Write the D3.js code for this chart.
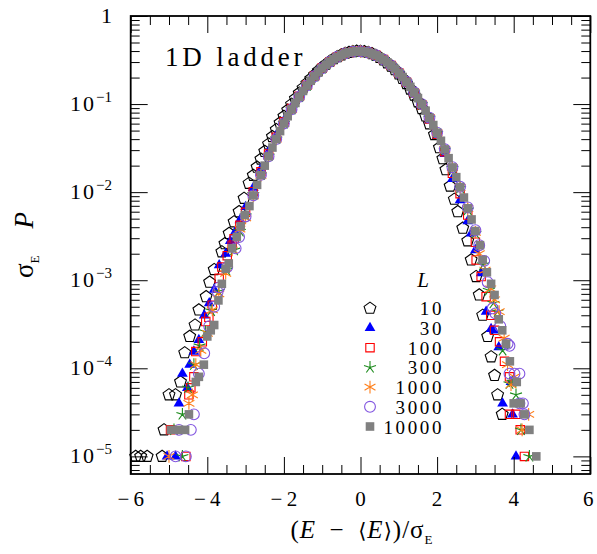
<!DOCTYPE html>
<html><head><meta charset="utf-8">
<script src="https://cdn.jsdelivr.net/npm/d3@7"></script>
<style>
body{margin:0;background:#fff}
text{font-family:"Liberation Serif","DejaVu Serif",serif;fill:#000}
</style>
</head><body>
<svg id="c" width="597" height="554"></svg>
<script>
// ---------------- data ----------------
const legendL = ["10","30","100","300","1000","3000","10000"];
const xTickLabels = [-6,-4,-2,0,2,4,6];
const yTickValues = [1e-5,1e-4,1e-3,1e-2,1e-1,1];
const yTickExp = ["\u22125","\u22124","\u22123","\u22122","\u22121",""];

// common x grid for the central part of the intermediate sizes
const coreX = [-3.0,-2.8,-2.6,-2.4,-2.2,-2.0,-1.8,-1.6,-1.4,-1.2,-1.0,-0.8,-0.6,-0.4,-0.2,0.0,0.2,0.4,0.6,0.8,1.0,1.2,1.4,1.6,1.8,2.0,2.2,2.4,2.6,2.8,3.0];

// L = 10 (x, sigma_E P)
const pL10 = [[-5.87,1e-5],[-5.74,1e-5],[-5.57,1e-5],[-5.18,1e-5],[-5.13,2e-5],[-5.00,5e-5],[-4.83,5e-5],[-4.70,7e-5],[-4.59,1.5e-4],[-4.46,2.3e-4],[-4.32,3.1e-4],[-4.22,4.6e-4],[-4.03,6.5e-4],[-3.94,9.5e-4],[-3.82,1.32e-3],[-3.62,2.1e-3],[-3.54,2.6e-3],[-3.43,3.4e-3],[-3.30,4.6e-3],[-3.17,6.0e-3],[-3.04,8.5e-3],[-2.91,1.26e-2],[-2.80,1.55e-2],[-2.70,1.92e-2],[-2.60,2.37e-2],[-2.50,2.90e-2],[-2.40,3.52e-2],[-2.30,4.27e-2],[-2.20,5.13e-2],[-2.10,6.11e-2],[-2.00,7.24e-2],[-1.90,8.51e-2],[-1.80,9.95e-2],[-1.70,0.115],[-1.60,0.133],[-1.50,0.152],[-1.40,0.172],[-1.30,0.193],[-1.20,0.215],[-1.10,0.238],[-1.00,0.261],[-0.90,0.283],[-0.80,0.305],[-0.70,0.327],[-0.60,0.345],[-0.50,0.362],[-0.40,0.376],[-0.30,0.386],[-0.20,0.394],[-0.10,0.398],[0.00,0.397],[0.10,0.393],[0.20,0.385],[0.30,0.373],[0.40,0.357],[0.50,0.339],[0.60,0.318],[0.70,0.294],[0.80,0.270],[0.90,0.245],[1.00,0.220],[1.10,0.195],[1.20,0.171],[1.30,0.148],[1.40,0.126],[1.50,0.106],[1.60,8.89e-2],[1.70,7.33e-2],[1.80,5.96e-2],[1.93,4.5e-2],[2.06,3.2e-2],[2.15,2.4e-2],[2.23,1.8e-2],[2.34,1.17e-2],[2.45,8.3e-3],[2.54,6.0e-3],[2.67,3.9e-3],[2.80,2.8e-3],[2.89,1.7e-3],[3.02,1.1e-3],[3.10,6.8e-4],[3.19,4.0e-4],[3.32,2.3e-4],[3.41,1.35e-4],[3.50,8.3e-5],[3.58,5e-5],[3.70,3e-5]];

// L = 30
const coreL30 = [6.8e-3,1.12e-2,1.85e-2,2.9e-2,4.42e-2,6.49e-2,9.18e-2,0.126,0.166,0.210,0.258,0.304,0.344,0.376,0.394,0.397,0.385,0.358,0.319,0.273,0.224,0.176,0.132,9.53e-2,6.58e-2,4.34e-2,2.72e-2,1.41e-2,8.1e-3,4.7e-3,2.2e-3];
const tailL30 = [[-5.05,1e-5],[-4.83,1e-5],[-4.74,4e-5],[-4.65,8.7e-5],[-4.52,6e-5],[-4.46,1.1e-4],[-4.35,1.55e-4],[-4.22,2.1e-4],[-4.08,4e-4],[-3.95,5.5e-4],[-3.82,7.8e-4],[-3.69,1.48e-3],[-3.52,2.0e-3],[-3.40,2.8e-3],[-3.28,3.5e-3],[-3.15,4.8e-3],[2.89,3.4e-3],[3.15,1.2e-3],[3.28,4.4e-4],[3.41,2.8e-4],[3.49,2.7e-4],[3.61,1.74e-4],[3.71,4e-5],[3.93,7e-5],[3.97,3e-5],[4.06,1e-5]];

// L = 100
const coreL100 = [5.9e-3,1.01e-2,1.70e-2,2.72e-2,4.2e-2,6.25e-2,8.93e-2,0.123,0.164,0.208,0.256,0.303,0.344,0.376,0.394,0.397,0.385,0.358,0.320,0.274,0.225,0.177,0.134,9.75e-2,6.79e-2,4.53e-2,2.88e-2,1.64e-2,9.6e-3,5.5e-3,2.7e-3];
const tailL100 = [[-4.96,2e-5],[-4.56,1e-5],[-4.48,5e-5],[-4.43,6e-5],[-4.35,8e-5],[-4.30,1.55e-4],[-4.13,2.0e-4],[-4.04,3.4e-4],[-3.96,3.8e-4],[-3.87,5.2e-4],[-3.69,1.05e-3],[-3.62,1.41e-3],[-3.48,1.9e-3],[-3.35,2.5e-3],[-3.30,2.95e-3],[-3.15,4.2e-3],[3.02,1.7e-3],[3.15,1.1e-3],[3.28,6.5e-4],[3.40,4.0e-4],[3.50,2.7e-4],[3.63,2.0e-4],[3.76,1.2e-4],[3.89,8e-5],[3.89,3e-5],[4.06,3e-5],[4.17,2e-5],[4.28,1e-5]];

// L = 300
const coreL300 = [5.4e-3,9.4e-3,1.58e-2,2.58e-2,4.03e-2,6.05e-2,8.74e-2,0.121,0.162,0.207,0.255,0.303,0.343,0.375,0.393,0.396,0.385,0.358,0.320,0.275,0.226,0.178,0.135,9.9e-2,6.95e-2,4.68e-2,3.02e-2,1.87e-2,1.11e-2,6.3e-3,3.4e-3];
const tailL300 = [[-4.65,1e-5],[-4.87,2e-5],[-4.65,3e-5],[-4.50,6e-5],[-4.35,1.1e-4],[-4.20,1.8e-4],[-4.05,2.6e-4],[-3.90,4.5e-4],[-3.70,7.5e-4],[-3.50,1.3e-3],[-3.30,2.2e-3],[-3.15,3.6e-3],[3.20,1.5e-3],[3.35,7.7e-4],[3.47,5.5e-4],[3.58,4.4e-4],[3.71,1.6e-4],[3.89,6.7e-5],[3.97,7e-5],[4.06,5e-5],[4.19,2e-5],[4.41,1e-5]];

// L = 1000
const coreL1000 = [5.1e-3,9.1e-3,1.55e-2,2.56e-2,4.0e-2,6.02e-2,8.7e-2,0.121,0.162,0.207,0.256,0.303,0.344,0.376,0.394,0.397,0.385,0.358,0.321,0.275,0.226,0.179,0.136,0.100,7.0e-2,4.72e-2,3.06e-2,1.9e-2,1.13e-2,6.5e-3,3.5e-3];
const tailL1000 = [[-5.00,1e-5],[-4.48,4e-5],[-4.39,5e-5],[-4.30,1.1e-4],[-4.17,1.6e-4],[-4.00,2.5e-4],[-3.87,4.6e-4],[-3.70,7e-4],[-3.52,1.2e-3],[-3.35,2.2e-3],[-3.15,3.8e-3],[3.10,2.0e-3],[3.25,1.3e-3],[3.40,8e-4],[3.50,6e-4],[3.62,4.4e-4],[3.75,2.2e-4],[3.84,1.1e-4],[3.93,6.5e-5],[4.02,8e-5],[4.22,2e-5],[4.39,3e-5]];

// L = 3000
const coreL3000 = [5.3e-3,9.2e-3,1.57e-2,2.55e-2,4.01e-2,6.03e-2,8.71e-2,0.121,0.162,0.207,0.255,0.303,0.344,0.376,0.394,0.397,0.385,0.358,0.320,0.275,0.226,0.179,0.136,9.98e-2,7.01e-2,4.74e-2,3.07e-2,1.92e-2,1.15e-2,6.7e-3,3.7e-3];
const tailL3000 = [[-4.83,1e-5],[-4.56,1e-5],[-4.74,2e-5],[-4.43,2e-5],[-4.35,3e-5],[-4.22,8.7e-5],[-4.08,1.48e-4],[-3.95,3.0e-4],[-3.82,5.0e-4],[-3.73,7.4e-4],[-3.69,8.3e-4],[-3.48,1.41e-3],[-3.26,2.3e-3],[-3.17,3.1e-3],[3.10,2.5e-3],[3.23,1.66e-3],[3.32,9.5e-4],[3.45,4.8e-4],[3.52,4.2e-4],[3.65,3.0e-4],[3.84,1.9e-4],[3.89,1.8e-4],[3.89,8.7e-5],[4.02,8.7e-5],[4.15,8.7e-5],[4.15,4e-5],[4.24,4e-5],[4.28,3e-5]];

// L = 10000
const pL10000 = [[-4.95,2e-5],[-4.74,2e-5],[-4.58,2e-5],[-4.48,3e-5],[-4.30,7e-5],[-4.22,8e-5],[-4.09,1.1e-4],[-4.00,2.3e-4],[-3.91,2.7e-4],[-3.82,3.1e-4],[-3.71,5.9e-4],[-3.62,9.1e-4],[-3.52,1.35e-3],[-3.44,1.55e-3],[-3.35,2.3e-3],[-3.23,3.1e-3],[-3.13,4.1e-3],[-3.02,5.5e-3],[-2.9,6.95e-3],[-2.8,9.18e-3],[-2.7,1.21e-2],[-2.6,1.56e-2],[-2.5,2.00e-2],[-2.4,2.55e-2],[-2.3,3.21e-2],[-2.2,4.00e-2],[-2.1,4.93e-2],[-2.0,6.03e-2],[-1.9,7.28e-2],[-1.8,8.71e-2],[-1.7,0.103],[-1.6,0.121],[-1.5,0.141],[-1.4,0.162],[-1.3,0.184],[-1.2,0.207],[-1.1,0.231],[-1.0,0.255],[-0.9,0.279],[-0.8,0.303],[-0.7,0.324],[-0.6,0.344],[-0.5,0.361],[-0.4,0.376],[-0.3,0.387],[-0.2,0.394],[-0.1,0.398],[0.0,0.397],[0.1,0.393],[0.2,0.385],[0.3,0.373],[0.4,0.358],[0.5,0.340],[0.6,0.320],[0.7,0.298],[0.8,0.275],[0.9,0.251],[1.0,0.226],[1.1,0.203],[1.2,0.179],[1.3,0.157],[1.4,0.136],[1.5,0.117],[1.6,9.98e-2],[1.7,8.41e-2],[1.8,7.01e-2],[1.9,5.78e-2],[2.0,4.73e-2],[2.1,3.83e-2],[2.2,3.06e-2],[2.3,2.43e-2],[2.4,1.91e-2],[2.5,1.48e-2],[2.6,1.14e-2],[2.7,8.69e-3],[2.8,6.56e-3],[2.9,4.90e-3],[3.0,3.62e-3],[3.12,2.5e-3],[3.19,1.7e-3],[3.30,1.23e-3],[3.41,9.1e-4],[3.50,6.8e-4],[3.61,3.6e-4],[3.70,2.7e-4],[3.80,1.9e-4],[3.90,1.2e-4],[4.08,7e-5],[4.00,4e-5],[4.18,4e-5],[4.28,3e-5],[4.41,2e-5],[4.59,1e-5]];

// ---------------- build series ----------------
function withCore(core, tail){ return coreX.map((xv,i)=>[xv,core[i]]).concat(tail); }
const series = [
  {L:legendL[0], pts:pL10,                          shape:"pent"},
  {L:legendL[1], pts:withCore(coreL30,tailL30),     shape:"tri"},
  {L:legendL[2], pts:withCore(coreL100,tailL100),   shape:"osq"},
  {L:legendL[3], pts:withCore(coreL300,tailL300),   shape:"star5"},
  {L:legendL[4], pts:withCore(coreL1000,tailL1000), shape:"ast6"},
  {L:legendL[5], pts:withCore(coreL3000,tailL3000), shape:"circ"},
  {L:legendL[6], pts:pL10000,                       shape:"fsq"}
];

// ---------------- styles ----------------
const styles = {
  pent:{fill:"none",stroke:"#000",sw:1.1},
  tri:{fill:"#0000ff",stroke:"none",sw:0},
  osq:{fill:"none",stroke:"#ff0000",sw:1.1},
  star5:{fill:"none",stroke:"#1e8c1e",sw:1.1},
  ast6:{fill:"none",stroke:"#ff7f1a",sw:1.1},
  circ:{fill:"none",stroke:"#8255e0",sw:1.1},
  fsq:{fill:"#808080",stroke:"none",sw:0}
};
function shapePath(s){
  const P=(a,r)=>[r*Math.cos(a*Math.PI/180), r*Math.sin(a*Math.PI/180)];
  if(s==="pent"){const r=6.2;return "M"+[0,1,2,3,4].map(k=>P(-90+72*k,r).map(v=>v.toFixed(2)).join(",")).join("L")+"Z";}
  if(s==="tri"){const r=6.2;return "M"+[0,1,2].map(k=>P(-90+120*k,r).map(v=>v.toFixed(2)).join(",")).join("L")+"Z";}
  if(s==="osq"){const h=4.2;return `M${-h},${-h}H${h}V${h}H${-h}Z`;}
  if(s==="fsq"){const h=4.3;return `M${-h},${-h}H${h}V${h}H${-h}Z`;}
  if(s==="star5"){const r=6.3;return [0,1,2,3,4].map(k=>"M0,0L"+P(-90+72*k,r).map(v=>v.toFixed(2)).join(",")).join("");}
  if(s==="ast6"){const r=6.3;return [0,1,2,3,4,5].map(k=>"M0,0L"+P(-90+60*k,r).map(v=>v.toFixed(2)).join(",")).join("");}
  if(s==="circ"){const r=5.4;return `M${r},0A${r},${r} 0 1 1 ${-r},0A${r},${r} 0 1 1 ${r},0Z`;}
}

// ---------------- chart ----------------
const svg = d3.select("#c");
const pLeft=130.7, pRight=590.3, pTop=16, pBottom=474;
const x = d3.scaleLinear().domain([-6,6]).range([pLeft,pRight]);
const y = d3.scaleLog().domain([Math.pow(10,-5.2),1]).range([pBottom,pTop]);

const plot = svg.append("g");
series.forEach(s=>{
  const st = styles[s.shape];
  plot.append("g").selectAll("path").data(s.pts).join("path")
    .attr("d", shapePath(s.shape))
    .attr("transform", d=>`translate(${x(d[0]).toFixed(2)},${y(d[1]).toFixed(2)})`)
    .attr("fill", st.fill).attr("stroke", st.stroke).attr("stroke-width", st.sw)
    .attr("stroke-linejoin","miter");
});

// ticks (inward, on all four sides)
const xMinor = d3.range(-5.5,6,0.5).filter(v=>Math.abs(v%2)>1e-9);
const yMinor = [];
for(let e=-6;e<0;e++) for(let k=2;k<10;k++){const v=k*Math.pow(10,e); if(v>Math.pow(10,-5.2) && v<1) yMinor.push(v);}
function tickAxis(axisFn, scale, vals, len, tr){
  const g = svg.append("g").attr("transform",tr)
    .call(axisFn(scale).tickValues(vals).tickSize(-len).tickFormat(""));
  g.select(".domain").remove();
  g.selectAll("line").attr("stroke","#000").attr("stroke-width",1);
}
tickAxis(d3.axisBottom, x, xTickLabels, 17, `translate(0,${pBottom})`);
tickAxis(d3.axisBottom, x, xMinor, 9, `translate(0,${pBottom})`);
tickAxis(d3.axisTop, x, xTickLabels, 17, `translate(0,${pTop})`);
tickAxis(d3.axisTop, x, xMinor, 9, `translate(0,${pTop})`);
tickAxis(d3.axisLeft, y, yTickValues, 17, `translate(${pLeft},0)`);
tickAxis(d3.axisLeft, y, yMinor, 9, `translate(${pLeft},0)`);
tickAxis(d3.axisRight, y, yTickValues, 17, `translate(${pRight},0)`);
tickAxis(d3.axisRight, y, yMinor, 9, `translate(${pRight},0)`);

// frame
svg.append("rect").attr("x",pLeft).attr("y",pTop).attr("width",pRight-pLeft).attr("height",pBottom-pTop)
  .attr("fill","none").attr("stroke","#000").attr("stroke-width",1.8);

// x tick labels
svg.append("g").selectAll("text").data(xTickLabels).join("text")
  .attr("x",d=>d===6 ? x(d)-2 : x(d)).attr("y",506).attr("text-anchor","middle")
  .attr("font-size",21)
  .text(d=>d<0?"\u2212\u2009"+Math.abs(d):String(d));

// y tick labels
const yl = svg.append("g").selectAll("text").data(yTickValues).join("text")
  .attr("x",112).attr("y",(d)=>y(d)+7).attr("text-anchor","end").attr("font-size",22);
yl.each(function(d,i){
  const t=d3.select(this);
  if(yTickExp[i]===""){t.text("1");return;}
  t.append("tspan").text("10").style("letter-spacing","2px");
  t.append("tspan").attr("dy",-9).attr("font-size",15).text(yTickExp[i]);
});

// panel label
svg.append("text").attr("x",165).attr("y",66).attr("font-size",27)
  .style("letter-spacing","3.8px").text("1D ladder");

// axis titles
const xt = svg.append("text").attr("x",362).attr("y",538).attr("text-anchor","middle")
  .attr("font-size",25).style("letter-spacing","1px");
xt.append("tspan").text("(");
xt.append("tspan").attr("font-style","italic").text("E");
xt.append("tspan").text("\u2002\u2212\u2002");
xt.append("tspan").attr("font-family","DejaVu Serif").attr("font-size",21).text("\u27E8");
xt.append("tspan").attr("font-style","italic").text("E");
xt.append("tspan").attr("font-family","DejaVu Serif").attr("font-size",21).text("\u27E9");
xt.append("tspan").text(")/\u03C3");
xt.append("tspan").attr("font-size",13).attr("dy",6).text("E");

const yt = svg.append("text").attr("transform","translate(33,245) rotate(-90)")
  .attr("text-anchor","middle").attr("font-size",27);
yt.append("tspan").text("\u03C3");
yt.append("tspan").attr("font-size",13).attr("dy",6).text("E");
yt.append("tspan").attr("dy",-6).text("\u2003");
yt.append("tspan").attr("font-style","italic").text("P");

// legend
svg.append("text").attr("x",423).attr("y",287).attr("text-anchor","middle")
  .attr("font-size",21).attr("font-style","italic").text("L");
const leg = svg.append("g").selectAll("g").data(series).join("g")
  .attr("transform",(d,i)=>`translate(0,${308.3+i*19.7})`);
leg.append("path").attr("transform","translate(370,0)")
  .attr("d",d=>shapePath(d.shape))
  .attr("fill",d=>styles[d.shape].fill).attr("stroke",d=>styles[d.shape].stroke)
  .attr("stroke-width",d=>styles[d.shape].sw);
leg.append("text").attr("x",444).attr("y",7).attr("text-anchor","end")
  .attr("font-size",19).style("letter-spacing","2.6px").text(d=>d.L);
</script>
</body></html>
